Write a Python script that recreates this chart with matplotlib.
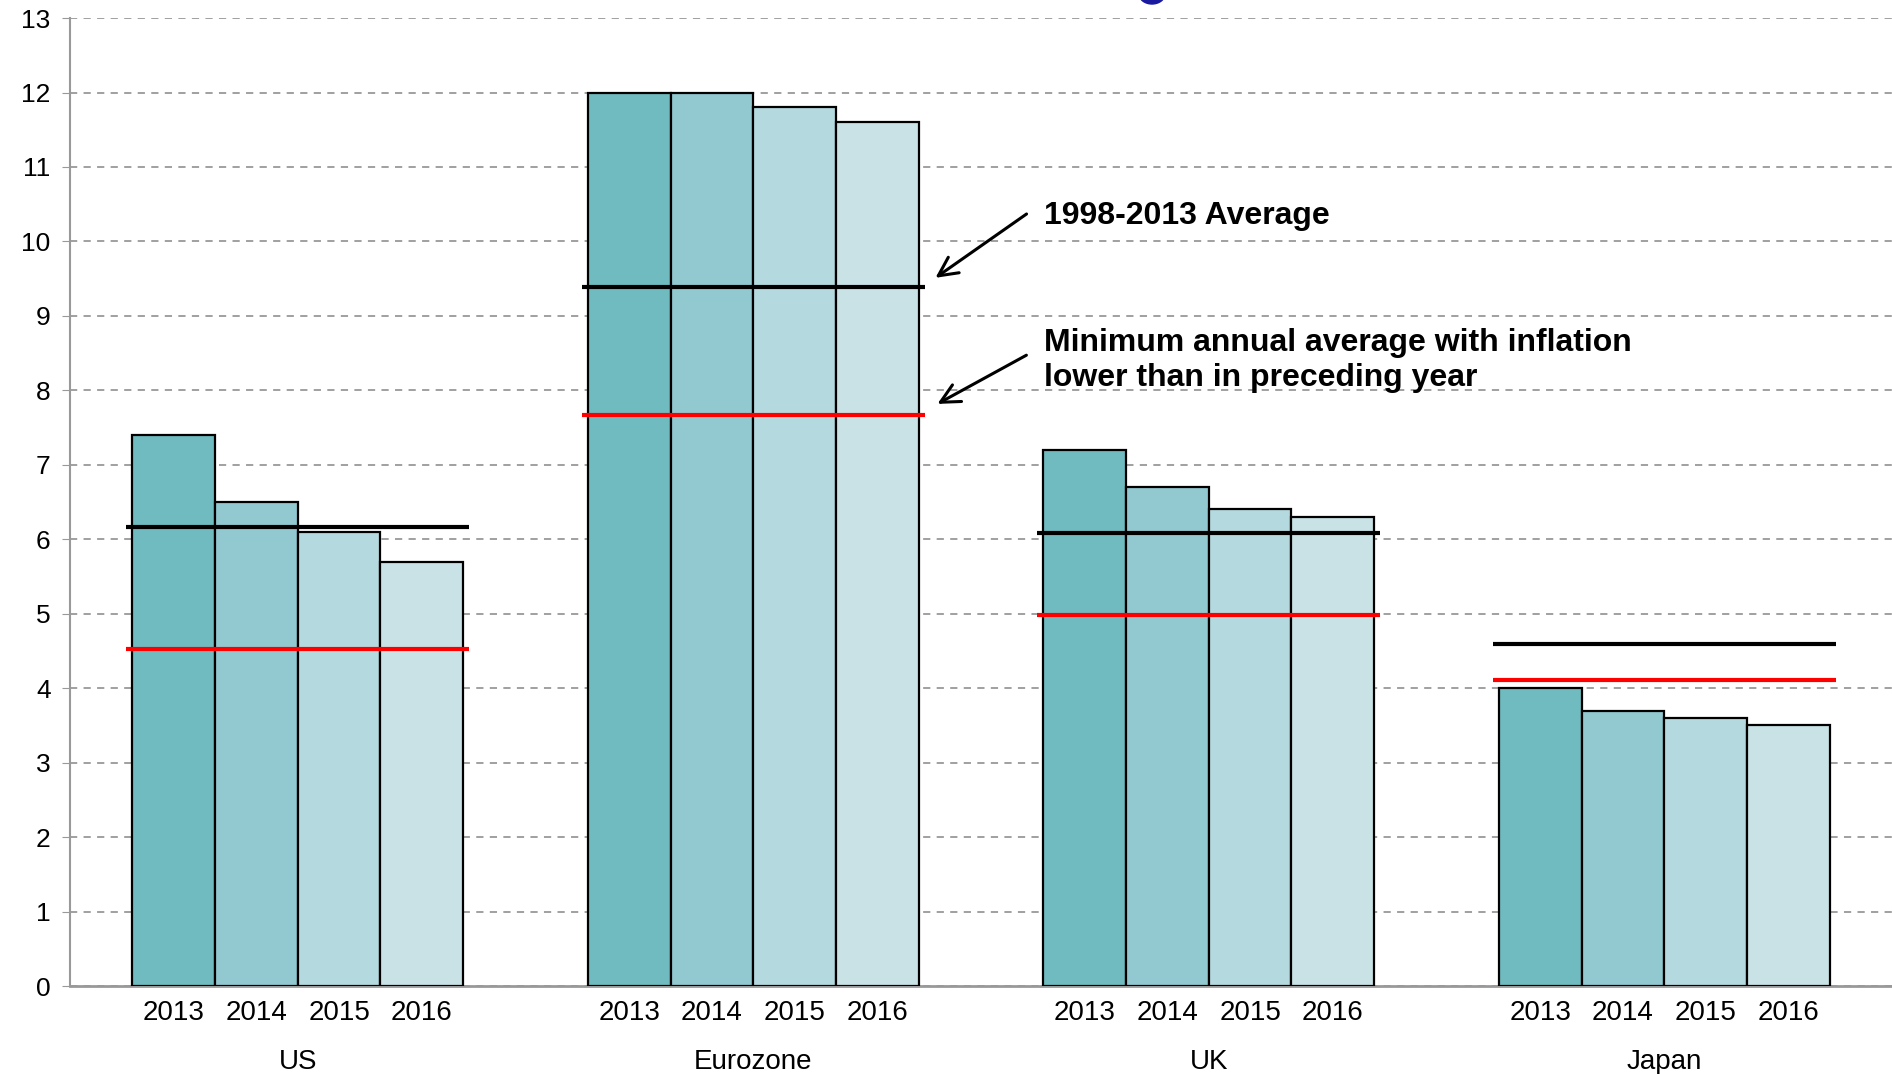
import matplotlib
matplotlib.use("Agg")
import matplotlib.pyplot as plt
from matplotlib.patches import Ellipse
import numpy as np

# data
regions = ["US", "Eurozone", "UK", "Japan"]
years = ["2013", "2014", "2015", "2016"]
us = [7.4, 6.5, 6.1, 5.7]
eurozone = [12.0, 12.0, 11.8, 11.6]
uk = [7.2, 6.7, 6.4, 6.3]
japan = [4.0, 3.7, 3.6, 3.5]
avg_1998_2013 = [6.16, 9.39, 6.08, 4.60]
min_lower_infl = [4.53, 7.67, 4.98, 4.11]

values = np.array([us, eurozone, uk, japan])
colors = ["#70bbc0", "#92c9d1", "#b4dadf", "#c9e2e6"]

plt.rcParams["font.family"] = ["Liberation Sans", "DejaVu Sans"]

dpi = 100
fig = plt.figure(figsize=(18.92, 10.74), dpi=dpi)
ax = fig.add_axes([0.037, 0.0819, 0.963, 0.9013])

x = np.arange(len(regions))
w = 0.1815
offsets = (np.arange(len(years)) - 1.5) * w

for j in range(len(years)):
    ax.bar(x + offsets[j], values[:, j], width=w, color=colors[j],
           edgecolor="black", linewidth=1.6, zorder=3)

half = 0.376
ax.hlines(avg_1998_2013, x - half, x + half, color="black", lw=3, zorder=4)
ax.hlines(min_lower_infl, x - half, x + half, color="#ff0000", lw=3, zorder=4)

ax.set_xlim(-0.5, 3.5)
ax.set_ylim(0, 13)
ax.set_yticks(range(0, 14))
ax.yaxis.grid(True, linestyle=(0, (4, 3.5)), color="#999999", lw=1.3, zorder=0)
ax.tick_params(axis="y", length=6, color="#999999", labelsize=19, pad=8)

# years as minor ticks, regions as major ticks
ax.set_xticks(x)
ax.set_xticklabels(regions, fontsize=20)
ax.set_xticks((x[:, None] + offsets[None, :]).ravel(), minor=True)
ax.set_xticklabels(years * len(regions), minor=True, fontsize=20)
ax.tick_params(axis="x", which="major", length=0, pad=45)
ax.tick_params(axis="x", which="minor", length=0, pad=10)

for s in ["top", "right"]:
    ax.spines[s].set_visible(False)
ax.spines["left"].set_color("#999999")
ax.spines["left"].set_linewidth(1.5)
ax.spines["bottom"].set_color("#999999")
ax.spines["bottom"].set_linewidth(2)

# annotations
ax.annotate("", xy=(1.395, 9.49), xytext=(1.605, 10.39),
            arrowprops=dict(arrowstyle="->", lw=2.2, color="black",
                            mutation_scale=34))
ax.text(1.638, 10.34, "1998-2013 Average", fontsize=23, fontweight="bold",
        va="center", ha="left")
ax.annotate("", xy=(1.399, 7.80), xytext=(1.605, 8.49),
            arrowprops=dict(arrowstyle="->", lw=2.2, color="black",
                            mutation_scale=34))
ax.text(1.638, 8.40, "Minimum annual average with inflation\nlower than in preceding year",
        fontsize=23, fontweight="bold", va="center", ha="left",
        linespacing=1.2)

# clipped blue mark at the top edge
fig.patches.append(Ellipse((1152 / 1892, 1 + 6 / 1074), 26 / 1892, 20 / 1074,
                           transform=fig.transFigure, color="#1a1aa0"))

fig.savefig("out.png", dpi=dpi)
